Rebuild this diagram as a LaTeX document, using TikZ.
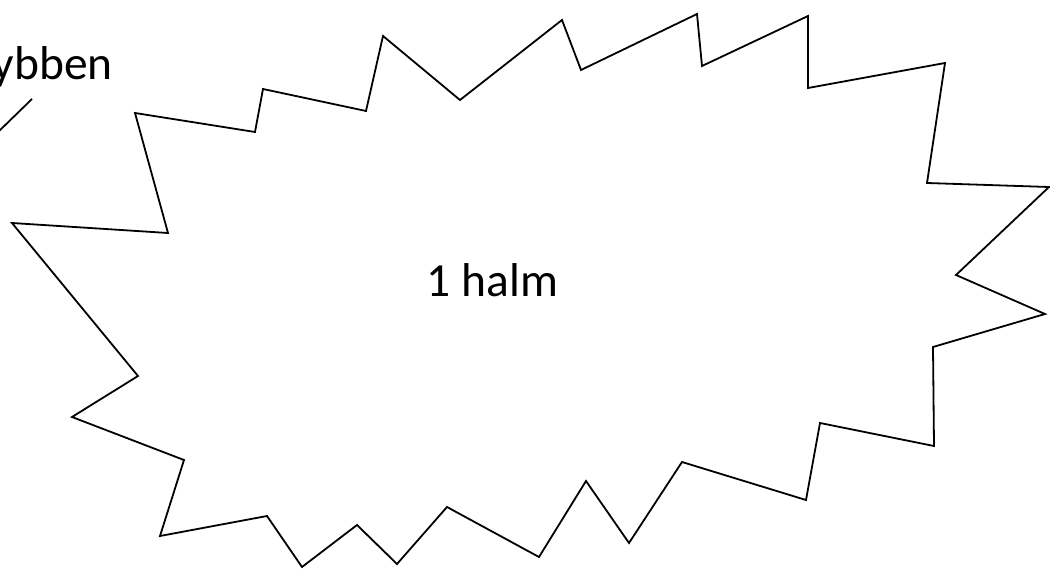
\documentclass[tikz,border=0pt]{standalone}
\usepackage{fontspec}
\setmainfont{Carlito}
\begin{document}
\begin{tikzpicture}[x=1pt,y=-1pt,
  outline/.style={draw=black,line width=1.8pt,line join=miter},
  lbl/.style={inner sep=0pt,font=\fontsize{47.5}{56}\selectfont,anchor=base}]
\useasboundingbox (0,0) rectangle (1050,569);
\fill[white] (0,0) rectangle (1050,569);
\draw[outline] (135,113) -- (255,132) -- (263,89) -- (366,111) -- (383,36)
  -- (460,100) -- (562,20) -- (581,70) -- (697,14) -- (702,66) -- (808,16)
  -- (808,88) -- (945,63) -- (927,183) -- (1049,187) -- (956,275)
  -- (1045,314) -- (933,347) -- (934,446) -- (820,423) -- (806,500)
  -- (682,462) -- (629,543) -- (586,481) -- (539,557) -- (447,507)
  -- (397,564) -- (357,525) -- (302,567) -- (267,516) -- (160,536)
  -- (184,460) -- (72,417) -- (138,376) -- (12,223) -- (168,233) -- cycle;
\node[lbl] (halm) at (492.5,297) {1 halm};
\node[lbl,anchor=base east] (ybben) at (113,80) {ybben};
\coordinate (leadA) at (32,99);
\coordinate (leadB) at (-4,134);
\draw[line width=1.8pt] (leadA) -- (leadB);
\end{tikzpicture}
\end{document}
